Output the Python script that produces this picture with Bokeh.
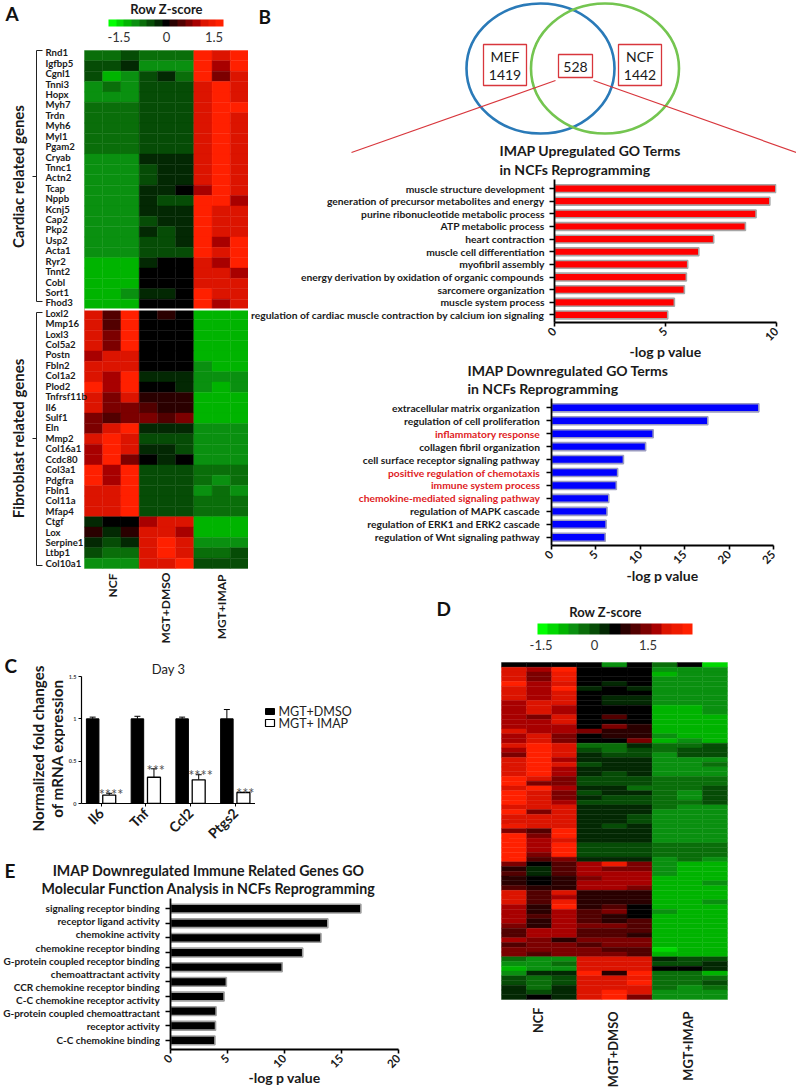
from math import pi
from bokeh.plotting import figure
from bokeh.layouts import row, column
from bokeh.models import (Range1d, LinearAxis, FixedTicker, Label, ColumnDataSource, LinearColorMapper,
                          ColorBar, Whisker, TeeHead, Title)
from bokeh.transform import transform
from bokeh.core.properties import value
from bokeh.embed import file_html
from bokeh.resources import INLINE

FONT = "Lato"
PALETTE = ["#00ff00", "#00d800", "#00b400", "#0a9010", "#0a6e0a", "#064c06", "#032803", "#000000",
           "#2a0000", "#520000", "#7c0000", "#a80000", "#dc1400", "#ee1a00", "#ff2000"]

# ---------- panel A ----------
genes_cardiac = ["Rnd1", "Igfbp5", "Cgnl1", "Tnni3", "Hopx", "Myh7", "Trdn", "Myh6", "Myl1", "Pgam2", "Cryab", "Tnnc1",
                 "Actn2", "Tcap", "Nppb", "Kcnj5", "Cap2", "Pkp2", "Usp2", "Acta1", "Ryr2", "Tnnt2", "Cobl", "Sort1", "Fhod3"]
genes_fibro = ["Loxl2", "Mmp16", "Loxl3", "Col5a2", "Postn", "Fbln2", "Col1a2", "Plod2", "Tnfrsf11b", "Il6", "Sulf1", "Eln",
               "Mmp2", "Col16a1", "Ccdc80", "Col3a1", "Pdgfra", "Fbln1", "Col11a", "Mfap4", "Ctgf", "Lox", "Serpine1", "Ltbp1", "Col10a1"]
heat_a = [
    [-3, -3, -2, -3, -3, -3, 7, 5, 7],
    [-2, -2, -1, -4, -4, -4, 7, 4, 7],
    [-2, -5, -4, -2, -1, -3, 7, 3, 5],
    [-4, -3, -4, -2, -2, -2, 5, 7, 5],
    [-4, -4, -4, -2, -2, -2, 5, 7, 5],
    [-3, -3, -3, -2, -2, -2, 5, 7, 7],
    [-3, -3, -3, -2, -2, -2, 5, 7, 5],
    [-3, -3, -3, -2, -2, -2, 5, 7, 5],
    [-3, -3, -3, -2, -2, -2, 5, 7, 5],
    [-3, -3, -3, -2, -2, -2, 5, 7, 5],
    [-4, -4, -4, -1, -1, -1, 5, 7, 5],
    [-4, -4, -4, -2, -1, -1, 5, 7, 5],
    [-4, -4, -4, -2, -1, -1, 5, 7, 5],
    [-4, -4, -4, -1, -1, 0, 4, 7, 5],
    [-4, -4, -4, -1, -2, -2, 7, 7, 4],
    [-4, -4, -4, -1, -1, -1, 7, 5, 5],
    [-4, -4, -4, -2, -1, -1, 7, 5, 5],
    [-4, -4, -4, -1, -2, -1, 7, 5, 5],
    [-4, -4, -4, -2, -2, -1, 7, 4, 7],
    [-4, -4, -4, -2, -2, -2, 7, 5, 7],
    [-5, -5, -5, -1, 0, 0, 5, 4, 7],
    [-5, -5, -5, 0, 0, 0, 5, 5, 4],
    [-5, -5, -5, 0, 0, 0, 5, 5, 5],
    [-5, -5, -4, -1, -1, 0, 7, 5, 5],
    [-5, -5, -5, 0, 0, 0, 7, 4, 5],
    [5, 2, 7, 0, 1, 0, -5, -5, -5],
    [5, 2, 7, 0, 0, 0, -5, -5, -5],
    [5, 3, 7, 0, 0, 0, -5, -5, -5],
    [5, 3, 7, 0, 0, 0, -5, -5, -5],
    [4, 5, 5, 0, 0, 0, -5, -5, -5],
    [5, 5, 5, 0, 0, 0, -4, -5, -5],
    [5, 4, 7, -1, -1, -1, -4, -4, -4],
    [7, 4, 7, 0, 0, -1, -4, -5, -4],
    [5, 3, 5, 1, 1, 1, -5, -5, -5],
    [5, 3, 3, 2, 1, 1, -5, -5, -5],
    [3, 2, 3, 3, 2, 3, -5, -5, -5],
    [3, 5, 7, -1, -1, -1, -4, -4, -4],
    [5, 7, 5, -2, -2, -2, -4, -4, -4],
    [4, 7, 5, -1, -1, -2, -4, -4, -4],
    [4, 7, 3, 0, -1, 0, -4, -4, -4],
    [7, 4, 7, -2, -2, -2, -3, -3, -3],
    [7, 4, 7, -2, -2, -2, -3, -4, -3],
    [5, 5, 7, -2, -2, -2, -4, -3, -4],
    [5, 5, 7, -2, -2, -2, -3, -3, -3],
    [5, 5, 7, -2, -2, -2, -3, -3, -3],
    [-1, 0, 0, 4, 5, 5, -5, -5, -5],
    [1, -1, 1, 5, 5, 4, -5, -5, -5],
    [-1, -2, -1, 5, 7, 5, -4, -4, -4],
    [-2, -3, -3, 5, 7, 5, -3, -3, -2],
    [-4, -4, -4, 5, 5, 7, -2, -2, -2],
]
groups = ["NCF", "MGT+DMSO", "MGT+IMAP"]

# ---------- panel B ----------
up_terms = ["muscle structure development", "generation of precursor metabolites and energy",
            "purine ribonucleotide metabolic process", "ATP metabolic process", "heart contraction",
            "muscle cell differentiation", "myofibril assembly", "energy derivation by oxidation of organic compounds",
            "sarcomere organization", "muscle system process",
            "regulation of cardiac muscle contraction by calcium ion signaling"]
up_values = [9.97, 9.7, 9.08, 8.6, 7.17, 6.5, 6.0, 5.94, 5.85, 5.4, 5.1]
down_terms = ["extracellular matrix organization", "regulation of cell proliferation", "inflammatory response",
              "collagen fibril organization", "cell surface receptor signaling pathway",
              "positive regulation of chemotaxis", "immune system process", "chemokine-mediated signaling pathway",
              "regulation of MAPK cascade", "regulation of ERK1 and ERK2 cascade", "regulation of Wnt signaling pathway"]
down_values = [23.35, 17.6, 11.45, 10.6, 8.1, 7.45, 7.3, 6.45, 6.25, 6.15, 6.05]
down_red = [2, 5, 6, 7]

# ---------- panel C ----------
c_genes = ["Il6", "Tnf", "Ccl2", "Ptgs2"]
c_dmso = [1.0, 1.0, 1.0, 1.0]
c_dmso_err = [1.02, 1.03, 1.02, 1.11]
c_imap = [0.10, 0.31, 0.28, 0.13]
c_imap_err = [0.12, 0.41, 0.34, 0.13]
c_stars = ["****", "***", "****", "***"]

# ---------- panel E ----------
e_terms = ["signaling receptor binding", "receptor ligand activity", "chemokine activity", "chemokine receptor binding",
           "G-protein coupled receptor binding", "chemoattractant activity", "CCR chemokine receptor binding",
           "C-C chemokine receptor activity", "G-protein coupled chemoattractant", "receptor activity", "C-C chemokine binding"]
e_values = [16.7, 13.8, 13.2, 11.6, 9.8, 4.9, 4.7, 4.0, 3.95, 3.9]

# ---------- panel D ----------
heat_d = [
    [0, 0, 0, 0, -4, 0, -3, 0, -6],
    [5, 4, 7, 0, 0, 0, -4, -4, -4],
    [5, 3, 6, 0, 0, 0, -5, -4, -4],
    [5, 3, 6, 0, 0, 0, -4, -4, -4],
    [7, 4, 5, 0, -1, 0, -4, -4, -4],
    [5, 4, 7, -1, 0, -1, -4, -4, -4],
    [5, 4, 5, 0, 0, 0, -4, -4, -4],
    [5, 4, 5, 0, -1, -1, -4, -4, -4],
    [4, 5, 5, 0, -1, -1, -4, -4, -4],
    [4, 5, 4, 0, 0, 0, -5, -5, -4],
    [4, 5, 4, 0, 0, 0, -5, -5, -4],
    [4, 3, 5, 0, 2, 0, -5, -5, -5],
    [4, 4, 5, 0, 0, 0, -5, -5, -5],
    [4, 4, 4, 0, 3, 1, -5, -5, -5],
    [5, 4, 4, 3, 1, 1, -5, -5, -5],
    [4, 5, 3, 0, 1, 1, -4, -5, -5],
    [4, 5, 3, 0, 0, 3, -5, -4, -5],
    [5, 7, 5, -3, -3, -1, -3, -3, -2],
    [4, 7, 5, -2, -3, -2, -3, -2, -2],
    [3, 7, 5, -1, -2, -2, -4, -2, -2],
    [5, 7, 4, -1, -1, -1, -4, -4, -4],
    [5, 7, 5, -2, -1, -1, -4, -4, -3],
    [5, 7, 4, -1, -1, -1, -4, -4, -4],
    [5, 7, 4, -1, -2, -1, -4, -4, -4],
    [7, 5, 3, -2, -2, -2, -3, -3, -3],
    [7, 3, 3, -2, -2, -2, -3, -3, -3],
    [5, 7, 4, -1, -1, -3, -3, -3, -2],
    [7, 5, 3, -2, -1, -1, -3, -4, -2],
    [7, 5, 3, -1, -2, -2, -3, -4, -2],
    [7, 5, 4, -2, -2, -2, -3, -3, -2],
    [5, 5, 5, -1, -1, -1, -3, -4, -4],
    [7, 3, 5, -1, -1, -1, -4, -4, -4],
    [5, 5, 5, -1, -1, -2, -4, -4, -4],
    [5, 5, 5, -1, -1, -2, -4, -4, -4],
    [6, 5, 5, -1, -2, -1, -4, -4, -4],
    [3, 2, 7, -1, -1, -1, -4, -4, -4],
    [7, 3, 7, -1, -1, -1, -4, -4, -4],
    [7, 4, 5, -1, -1, -1, -4, -4, -4],
    [7, 4, 7, -2, -2, -2, -3, -3, -3],
    [7, 4, 7, -2, -2, -2, -3, -3, -3],
    [7, 3, 7, -2, -2, -2, -3, -3, -3],
    [7, 2, 3, -1, -1, -1, -4, -3, -4],
    [3, 0, 2, 4, 6, 3, -4, -5, -5],
    [1, -1, 2, 4, 3, 3, -4, -5, -5],
    [2, -1, 2, 4, 4, 4, -4, -5, -5],
    [1, 0, 1, 3, 4, 4, -5, -5, -5],
    [1, 0, 1, 4, 4, 4, -5, -5, -4],
    [2, 1, 1, 4, 4, 3, -5, -5, -5],
    [5, 2, 5, 1, 1, 1, -5, -5, -5],
    [5, 2, 4, 1, 1, 1, -5, -5, -5],
    [5, 2, 6, 1, 1, 1, -5, -5, -4],
    [4, 1, 7, 1, 2, 0, -5, -5, -5],
    [4, 1, 4, 2, 3, 0, -4, -5, -5],
    [4, 2, 4, 2, 1, 0, -5, -5, -5],
    [4, 1, 4, 2, 1, 2, -5, -5, -5],
    [3, 1, 4, 3, 3, 2, -5, -5, -5],
    [2, 4, 4, 2, 2, 2, -5, -5, -5],
    [2, 4, 4, 2, 2, 1, -5, -5, -5],
    [4, 3, 1, 3, 3, 3, -5, -5, -5],
    [2, 3, 3, 2, 3, 3, -5, -5, -5],
    [3, 3, 3, 3, 2, 2, -6, -5, -5],
    [3, 2, 3, 3, 3, 2, -5, -5, -5],
    [-3, -4, -4, 5, 5, 5, -1, -2, -2],
    [-4, -4, -3, 5, 5, 5, -2, -2, -1],
    [-5, -4, -4, 5, 5, 5, 0, 0, -1],
    [-4, -1, -1, 7, 1, 7, -3, -3, -5],
    [-2, -3, -2, 5, 5, 6, -3, -3, -3],
    [-2, -3, -2, 5, 5, 7, -3, -3, -2],
    [-1, -3, -1, 5, 5, 5, -3, -4, -3],
    [-1, -2, -1, 5, 7, 5, -4, -4, -4],
    [-1, 0, -1, 5, 7, 3, -4, -4, -4],
]


def mk(box, frame, xr, yr):
    x0, y0, x1, y1 = box
    fx0, fy0, fx1, fy1 = frame
    p = figure(width=x1 - x0, height=y1 - y0, x_range=xr, y_range=yr, x_axis_location=None, y_axis_location=None,
               min_border_left=fx0 - x0, min_border_right=x1 - fx1, min_border_top=fy0 - y0, min_border_bottom=y1 - fy1,
               toolbar_location=None, output_backend="svg", background_fill_color="white", border_fill_color="white")
    p.frame_align = False
    p.outline_line_color = None
    p.xgrid.visible = False
    p.ygrid.visible = False
    p.extra_x_ranges["px"] = Range1d(fx0, fx1)
    p.extra_y_ranges["px"] = Range1d(fy1, fy0)
    return p


def strip(box):
    return mk(box, box, Range1d(box[0], box[2]), Range1d(box[3], box[1]))


def tx(p, x, y, text, size=12, bold=False, color="#1a1a1a", align="left", angle=0, base="middle"):
    p.add_layout(Label(x=x, y=y, text=text, x_range_name="px", y_range_name="px", text_font=FONT,
                       text_font_size=f"{size}px", text_font_style="bold" if bold else "normal", text_color=color,
                       text_align=align, text_baseline=base, angle=angle))


def heat(p, rows, mapper):
    xs, ys, zs = [], [], []
    for j, r in enumerate(rows):
        for i, v in enumerate(r):
            xs.append(i + 0.5)
            ys.append(j + 0.5)
            zs.append(v)
    src = ColumnDataSource(dict(x=xs, y=ys, z=zs))
    t = transform("z", mapper)
    p.rect("x", "y", 1, 1, source=src, fill_color=t, line_color=t, line_width=0.4)


def scale_bar(p, low, high, x, y, w, h, size, standoff):
    m = LinearColorMapper(palette=PALETTE, low=low, high=high)
    cb = ColorBar(color_mapper=m, location=(x, y), width=w, height=h, orientation="horizontal", padding=0, margin=0,
                  ticker=FixedTicker(ticks=[-1.5, 0, 1.5]), major_label_overrides={-1.5: "-1.5", 0: "0", 1.5: "1.5"},
                  major_tick_line_color=None, minor_tick_line_color=None, bar_line_color=None, border_line_color=None,
                  background_fill_alpha=0, label_standoff=standoff, major_label_text_font=FONT,
                  major_label_text_font_size=f"{size}px", major_label_text_color="#333333")
    p.add_layout(cb, "center")


def hbars(p, values, color, outline="#a6a6a6", height=0.62):
    p.hbar(y=list(range(len(values))), right=values, left=0, height=height, fill_color=color, line_color=outline,
           line_width=1.6)


def bar_axes(p, xticks, yticks, labels, size, label_standoff):
    xa = LinearAxis(ticker=FixedTicker(ticks=xticks), major_label_orientation=pi / 4, axis_line_width=1.8,
                    major_tick_line_width=1.6, major_tick_in=0, major_tick_out=4, minor_tick_line_color=None,
                    major_label_text_font=FONT, major_label_text_font_size="11.5px", major_label_text_font_style="bold",
                    major_label_text_color="#1a1a1a", major_label_standoff=3, axis_label="-log p value",
                    axis_label_text_font=FONT, axis_label_text_font_size="14px", axis_label_text_font_style="bold",
                    axis_label_text_color="#1a1a1a", axis_label_standoff=label_standoff)
    p.add_layout(xa, "below")
    ya = LinearAxis(ticker=FixedTicker(ticks=yticks), major_label_overrides=labels, axis_line_width=1.8,
                    major_tick_line_width=1.6, major_tick_in=0, major_tick_out=5, minor_tick_line_color=None,
                    major_label_text_font=FONT, major_label_text_font_size=f"{size}px", major_label_text_font_style="bold",
                    major_label_text_color="#1a1a1a", major_label_standoff=5)
    p.add_layout(ya, "left")


# ===== A =====
mapper = LinearColorMapper(palette=PALETTE, low=-7.5, high=7.5)
CW, RH = 164 / 9, 518 / 50
pa = mk((0, 0, 248, 652), (0, 0, 248, 652), Range1d(-84 / CW, 9), Range1d(50 + 84 / RH, -50 / RH))
heat(pa, heat_a, mapper)
pa.line([0, 9], [25, 25], line_color="white", line_width=2)
for i, g in enumerate(genes_cardiac + genes_fibro):
    tx(pa, 45, 52.3 + i * 10.42, g, 9.6, True)
for bx, by in [([42, 36, 36, 42], [50, 50, 301, 301]), ([32, 36], [176, 176]),
               ([42, 36, 36, 42], [312, 312, 565, 565]), ([32, 36], [438, 438])]:
    pa.line(x=bx, y=by, x_range_name="px", y_range_name="px", line_color="#222222", line_width=1)
tx(pa, 17, 176, "Cardiac related genes", 15, True, align="center", angle=pi / 2)
tx(pa, 17, 438, "Fibroblast related genes", 15, True, align="center", angle=pi / 2)
tx(pa, 5, 13, "A", 19, True, "#111111")
tx(pa, 166, 8.5, "Row Z-score", 13, True, align="center")
scale_bar(pa, -1.83, 1.80, 108, 608, 115, 7, 13, 5)
for gx, gy, g in zip([112, 165, 221], [573, 572, 574], groups):
    tx(pa, gx, gy, g, 12, True, align="right", angle=pi / 2)

# ===== B venn =====
pv = strip((248, 0, 796, 178))
pv.ellipse(x=[540], y=[68], width=[148], height=[130], fill_color=None, line_color="#2a7ab8", line_width=2.6)
pv.ellipse(x=[604.5], y=[68], width=[148], height=[130], fill_color=None, line_color="#74c550", line_width=2.6)
for bx0, by0, bx1, by1 in [(483, 44, 526, 85), (558, 54, 592, 77), (618, 44, 661, 85)]:
    pv.quad(left=[bx0], right=[bx1], top=[by0], bottom=[by1], fill_color=None, line_color="#d8363c", line_width=1.3)
pv.line([555, 351], [80, 152], line_color="#d8363c", line_width=1.2)
pv.line([593, 796], [80, 152], line_color="#d8363c", line_width=1.2)
tx(pv, 504.5, 56, "MEF", 14, align="center")
tx(pv, 504.5, 74, "1419", 14, align="center")
tx(pv, 575, 66, "528", 14, align="center")
tx(pv, 639.5, 56, "NCF", 14, align="center")
tx(pv, 639.5, 74, "1442", 14, align="center")
tx(pv, 258, 16, "B", 19, True, "#111111")
tx(pv, 499, 150, "IMAP Upregulated GO Terms", 14, True)
tx(pv, 499, 168.5, "in NCFs Reprogramming", 14, True)

# ===== B up =====
pu = mk((248, 178, 796, 362), (551, 179, 776, 328), Range1d(0, 10), Range1d(10.6, -0.72))
hbars(pu, up_values, "#ff0000")
bar_axes(pu, [0, 5, 10], list(range(11)), {i: t for i, t in enumerate(up_terms)}, 10.3, -5)

# ===== B down =====
pt = strip((248, 362, 796, 397))
tx(pt, 467, 370, "IMAP Downregulated GO Terms", 14, True)
tx(pt, 467, 387.5, "in NCFs Reprogramming", 14, True)
down_y = Range1d(10.64, -0.72)
pl = mk((248, 397, 542, 592), (248, 398, 542, 545), Range1d(248, 542), down_y)
for i, t in enumerate(down_terms):
    pl.add_layout(Label(x=539.5, y=i, x_range_name="px", text=t, text_font=FONT, text_font_size="10.3px",
                        text_font_style="bold", text_color="#e01b24" if i in down_red else "#1a1a1a",
                        text_align="right", text_baseline="middle"))
pd_ = mk((542, 397, 796, 592), (551, 398, 773, 545), Range1d(0, 25), down_y)
hbars(pd_, down_values, "#0000ff", outline="#9a9ac0")
bar_axes(pd_, [0, 5, 10, 15, 20, 25], list(range(11)), {i: "" for i in range(11)}, 10.3, -4)

# ===== D head =====
ph = strip((248, 592, 796, 652))
tx(ph, 436, 608, "D", 19, True, "#111111")
tx(ph, 605, 611, "Row Z-score", 13, True, align="center")
scale_bar(ph, -1.6, 2.75, 289, 0, 155, 11, 13, 5)

# ===== C =====
cl = strip((0, 652, 65, 850))
tx(cl, 4, 665, "C", 19, True, "#111111")
tx(cl, 37.5, 748, "Normalized fold changes", 15.2, True, align="center", angle=pi / 2)
tx(cl, 56.5, 748, "of mRNA expression", 15.2, True, align="center", angle=pi / 2)

pc = mk((65, 652, 255, 850), (78, 676, 255, 813), Range1d(-0.44, 3.45), Range1d(0, 1.5))
xs = list(range(4))
pc.vbar(x=[i - 0.19 for i in xs], top=c_dmso, width=0.28, fill_color="black", line_color="black")
pc.vbar(x=[i + 0.18 for i in xs], top=c_imap, width=0.29, fill_color="white", line_color="black", line_width=1.3)
for xv, base, up in [([i - 0.19 for i in xs], c_dmso, c_dmso_err), ([i + 0.18 for i in xs], c_imap, c_imap_err)]:
    s = ColumnDataSource(dict(x=xv, b=base, u=up))
    pc.add_layout(Whisker(source=s, base="x", upper="u", lower="b", dimension="height", lower_head=None,
                          upper_head=TeeHead(size=6, line_width=1, line_color="black"), line_color="black", line_width=1))
pc.text(x=[i + 0.22 for i in xs], y=[e - 0.015 for e in c_imap_err], text=c_stars, text_font=value(FONT),
        text_font_size="14.5px", text_align="center", text_baseline="middle", text_color="#555555")
pc.add_layout(LinearAxis(ticker=FixedTicker(ticks=[0, 0.5, 1.0, 1.5]), axis_line_width=1.2, major_tick_line_width=1,
                         major_tick_in=0, major_tick_out=3, minor_tick_line_color=None, major_label_text_font=FONT,
                         major_label_text_font_size="5.5px", major_label_text_font_style="bold", major_label_standoff=2), "left")
pc.add_layout(LinearAxis(ticker=FixedTicker(ticks=xs), major_label_overrides={i: g for i, g in enumerate(c_genes)},
                         axis_line_width=1.2, major_tick_line_width=1, major_tick_in=0, major_tick_out=3,
                         minor_tick_line_color=None, major_label_orientation=pi / 4, major_label_text_font=FONT,
                         major_label_text_font_size="14px", major_label_text_font_style="bold",
                         major_label_text_color="#1a1a1a", major_label_standoff=4), "below")
pc.add_layout(Title(text="Day 3", align="center", text_font=FONT, text_font_size="13px", text_font_style="normal",
                    text_color="#222222", standoff=0), "above")

cr = strip((255, 652, 430, 850))
cr.quad(left=[265], right=[274], top=[708], bottom=[714], fill_color="black", line_color="black")
cr.quad(left=[265], right=[274], top=[719], bottom=[726], fill_color="white", line_color="black", line_width=1.2)
tx(cr, 278, 711, "MGT+DMSO", 12.5, color="#222222")
tx(cr, 278, 723, "MGT+ IMAP", 12.5, color="#222222")

# ===== E =====
et = strip((0, 850, 430, 897))
tx(et, 4, 870, "E", 19, True, "#111111")
tx(et, 208, 870, "IMAP Downregulated Immune Related Genes GO", 14.2, True, align="center")
tx(et, 208, 888, "Molecular Function Analysis in NCFs Reprogramming", 14.2, True, align="center")
el = strip((0, 897, 160, 1089))
e_label_y = [907.7, 920.7, 933.7, 947, 960, 973.3, 986.3, 999.3, 1012.7, 1025.7, 1039]
for y, t in zip(e_label_y, e_terms):
    tx(el, 159.5, y, t, 10, True, align="right")
pe = mk((160, 897, 430, 1089), (170, 898, 398, 1049), Range1d(0, 20), Range1d(9.62, -0.69))
hbars(pe, e_values, "#000000", outline="#a0a0a0", height=0.6)
bar_axes(pe, [0, 5, 10, 15, 20], list(range(10)), {i: "" for i in range(10)}, 10, -6)

# ===== D =====
dw, dh = 226 / 9, 337 / 71
pdm = mk((430, 652, 796, 1089), (430, 652, 796, 1089), Range1d(-71 / dw, 9 + 69 / dw), Range1d(71 + 90 / dh, -10 / dh))
heat(pdm, heat_d, mapper)
for gx, gy, g in zip([537, 612.7, 687], [1007, 1011, 1011], groups):
    tx(pdm, gx, gy, g, 12.8, True, align="right", angle=pi / 2)

page = column(
    row(pa, column(pv, pu, pt, row(pl, pd_, spacing=0), ph, spacing=0), spacing=0),
    row(column(row(cl, pc, cr, spacing=0), et, row(el, pe, spacing=0), spacing=0), pdm, spacing=0),
    spacing=0,
)
open("out.html", "w").write(file_html(page, INLINE))
